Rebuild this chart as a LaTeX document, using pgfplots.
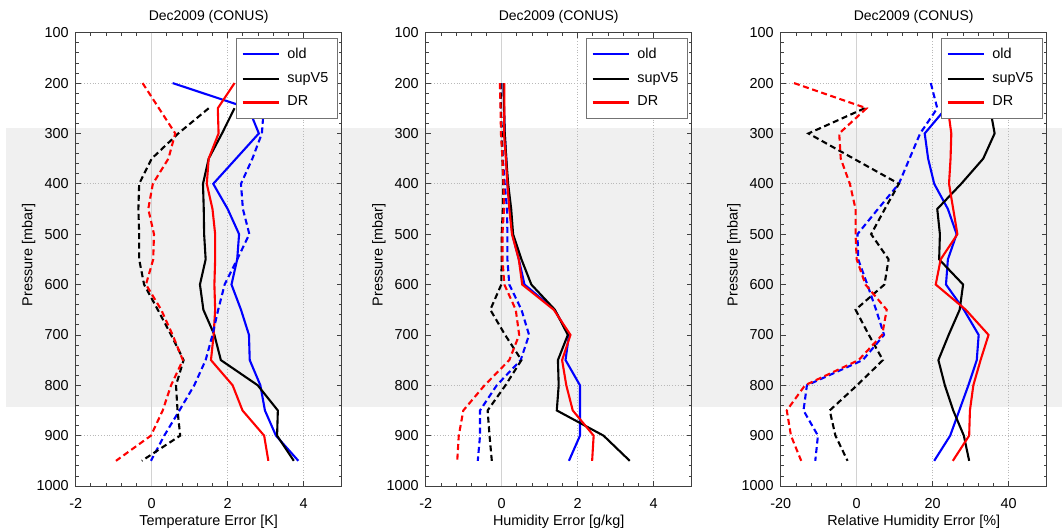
\documentclass[border=0pt]{standalone}
\usepackage{fontspec}
\setmainfont{Liberation Sans}
\usepackage{pgfplots}
\pgfplotsset{compat=1.18}

\pgfplotsset{
  myax/.style={
    scale only axis, width=133pt, height=226.65pt,
    anchor=south west,
    y dir=reverse, ymin=100, ymax=1000, ytick={100,200,...,1000},
    minor y tick num=4, minor x tick num=4,
    tick align=inside, major tick length=2.5pt, minor tick length=1.5pt,
    every tick/.style={black!75, line width=0.4pt},
    axis line style={black!75, line width=0.5pt},
    /pgf/number format/assume math mode=true,
    /pgf/number format/1000 sep={},
    tick label style={font=\fontsize{7.2}{8.6}\selectfont},
    label style={font=\fontsize{7.2}{8.6}\selectfont},
    title style={font=\fontsize{7}{8.4}\selectfont, at={(0.5,1)}, anchor=base, yshift=0.3pt},
    xticklabel style={anchor=base, yshift=-11pt},
    xlabel style={at={([yshift=-19.5pt]axis description cs:0.5,0)}, anchor=base},
    ylabel style={at={([xshift=-21.6pt]axis description cs:0,0.51)}, anchor=base},
    title={Dec2009 (CONUS)},
    ylabel={Pressure [mbar]},
    xmajorgrids,
    major grid style={densely dotted, gray!55, line width=0.4pt},
    extra y tick labels={},
    extra y tick style={grid=major},
    legend cell align=left,
    legend style={at={(0.985,0.9876)}, anchor=north east, draw=black!55, line width=0.4pt, fill=white,
      font=\fontsize{7.2}{8.6}\selectfont, inner xsep=2.5pt, inner ysep=2.5pt, row sep=1.5pt, column sep=1.5pt},
    legend image code/.code={\draw[#1, solid] (0pt,0pt) -- (18.4pt,0pt);},
    sol/.style={line width=1.05pt},
    das/.style={line width=1.05pt, dash pattern=on 3pt off 1.8pt},
  }
}

\begin{document}
\begin{tikzpicture}
\path[use as bounding box] (0,0) rectangle (531pt,265.5pt);
\fill[gray!12] (3pt,62.2pt) rectangle (531pt,201.3pt);

% ---------- Temperature ----------
\begin{axis}[myax, at={(37.85pt,22.5pt)},
  xmin=-2, xmax=5, xtick={-2,0,2,4},
  extra y ticks={200,400,900},
  xlabel={Temperature Error [K]}]
\addplot[gray!35, line width=0.6pt, forget plot] coordinates {(0,100) (0,1000)};
\addplot[blue, sol] coordinates {(0.55,200) (2.55,250) (2.82,300) (2.22,350) (1.62,400) (2.0,450) (2.3,500) (2.25,550) (2.1,600) (2.35,650) (2.56,700) (2.58,750) (2.86,800) (2.98,850) (3.27,900) (3.86,950)};
\addplot[black, sol] coordinates {(2.18,250) (1.85,300) (1.5,350) (1.35,400) (1.37,450) (1.38,500) (1.42,550) (1.27,600) (1.36,650) (1.65,700) (1.82,750) (2.79,800) (3.32,850) (3.3,900) (3.74,950)};
\addplot[red, sol] coordinates {(2.18,200) (1.74,250) (1.76,300) (1.5,350) (1.45,400) (1.6,450) (1.67,500) (1.67,550) (1.65,600) (1.67,650) (1.63,700) (1.56,750) (2.13,800) (2.39,850) (2.96,900) (3.07,950)};
\addplot[blue, das, forget plot] coordinates {(2.95,250) (2.9,300) (2.65,350) (2.35,400) (2.4,450) (2.57,500) (2.25,550) (1.92,600) (1.75,650) (1.6,700) (1.42,750) (1.12,800) (0.73,850) (0.33,900) (-0.02,950)};
\addplot[black, das, forget plot] coordinates {(1.5,250) (0.7,300) (0.0,350) (-0.33,400) (-0.35,450) (-0.33,500) (-0.33,550) (-0.2,600) (0.16,650) (0.51,700) (0.84,750) (0.64,800) (0.68,850) (0.75,900) (-0.26,950)};
\addplot[red, das, forget plot] coordinates {(-0.24,200) (0.19,250) (0.62,300) (0.44,350) (0.03,400) (-0.09,450) (0.06,500) (0.04,550) (-0.15,600) (0.25,650) (0.55,700) (0.82,750) (0.51,800) (0.29,850) (-0.02,900) (-0.94,950)};
\legend{old, supV5, DR}
\end{axis}

% ---------- Humidity ----------
\begin{axis}[myax, at={(212.85pt,22.5pt)},
  xmin=-2, xmax=5, xtick={-2,0,2,4},
  extra y ticks={200,400,800,900},
  xlabel={Humidity Error [g/kg]}]
\addplot[gray!35, line width=0.6pt, forget plot] coordinates {(0,100) (0,1000)};
\addplot[blue, sol] coordinates {(0.05,200) (0.06,250) (0.08,300) (0.12,350) (0.15,400) (0.22,450) (0.28,500) (0.45,550) (0.6,600) (1.39,650) (1.77,700) (1.68,750) (2.06,800) (2.06,850) (2.06,900) (1.77,950)};
\addplot[black, sol] coordinates {(0.05,200) (0.06,250) (0.08,300) (0.12,350) (0.17,400) (0.25,450) (0.3,500) (0.52,550) (0.78,600) (1.4,650) (1.74,700) (1.48,750) (1.5,800) (1.45,850) (2.68,900) (3.37,950)};
\addplot[red, sol] coordinates {(0.07,200) (0.07,250) (0.06,300) (0.11,350) (0.15,400) (0.2,450) (0.27,500) (0.45,550) (0.54,600) (1.37,650) (1.81,700) (1.59,750) (1.7,800) (1.87,850) (2.42,900) (2.38,950)};
\addplot[blue, das, forget plot] coordinates {(-0.03,200) (-0.02,250) (0.0,300) (0.03,350) (0.08,400) (0.14,450) (0.15,500) (0.15,550) (0.2,600) (0.52,650) (0.72,700) (0.5,750) (-0.13,800) (-0.57,850) (-0.57,900) (-0.63,950)};
\addplot[black, das, forget plot] coordinates {(-0.03,200) (-0.02,250) (0.0,300) (0.02,350) (0.04,400) (0.03,450) (0.0,500) (0.0,550) (-0.01,600) (-0.3,650) (0.09,700) (0.52,750) (0.1,800) (-0.37,850) (-0.32,900) (-0.26,950)};
\addplot[red, das, forget plot] coordinates {(-0.05,200) (-0.03,250) (-0.02,300) (0.02,350) (0.05,400) (0.06,450) (0.02,500) (0.02,550) (0.07,600) (0.37,650) (0.46,700) (0.2,750) (-0.45,800) (-1.01,850) (-1.13,900) (-1.17,950)};
\legend{old, supV5, DR}
\end{axis}

% ---------- Relative humidity ----------
\begin{axis}[myax, at={(390.35pt,22.5pt)},
  xmin=-20, xmax=50, xtick={-20,0,20,40},
  extra y ticks={200,400,800,900},
  xlabel={Relative Humidity Error [\%]}]
\addplot[gray!35, line width=0.6pt, forget plot] coordinates {(0,100) (0,1000)};
\addplot[blue, sol] coordinates {(27,200) (23.5,250) (17.9,300) (18.8,350) (20.4,400) (24,450) (26.3,500) (24,550) (23.5,600) (28.2,650) (32.1,700) (31.6,750) (29.4,800) (27,850) (24.6,900) (20.4,950)};
\addplot[black, sol] coordinates {(34,200) (35.1,250) (36.3,300) (33.3,350) (27.5,400) (21.2,450) (21.9,500) (21.7,550) (28,600) (27.1,650) (24.2,700) (21.5,750) (23.2,800) (25.4,850) (28.2,900) (29.6,950)};
\addplot[red, sol] coordinates {(24,200) (24,250) (24.9,300) (24.7,350) (24.3,400) (25.4,450) (26.5,500) (22.1,550) (20.8,600) (28.7,650) (34.7,700) (32.6,750) (30.7,800) (29.8,850) (29.6,900) (25.3,950)};
\addplot[blue, das, forget plot] coordinates {(19.5,200) (21.2,250) (16.7,300) (13.9,350) (11.1,400) (5.6,450) (0.2,500) (0.4,550) (2.8,600) (5.1,650) (7.2,700) (1.6,750) (-13.1,800) (-14,850) (-10.2,900) (-10.9,950)};
\addplot[black, das, forget plot] coordinates {(2.1,250) (-12.7,300) (-0.8,350) (11.1,400) (7.4,450) (3.8,500) (8.4,550) (7.3,600) (-0.3,650) (3.2,700) (6.9,750) (0.1,800) (-7.1,850) (-5.6,900) (-2.4,950)};
\addplot[red, das, forget plot] coordinates {(-16.5,200) (2.6,250) (-4.6,300) (-4.2,350) (-1.8,400) (-0.3,450) (-0.3,500) (0,550) (2.3,600) (7.9,650) (6.7,700) (0.5,750) (-13.6,800) (-18.4,850) (-17.3,900) (-14.6,950)};
\legend{old, supV5, DR}
\end{axis}
\end{tikzpicture}
\end{document}
